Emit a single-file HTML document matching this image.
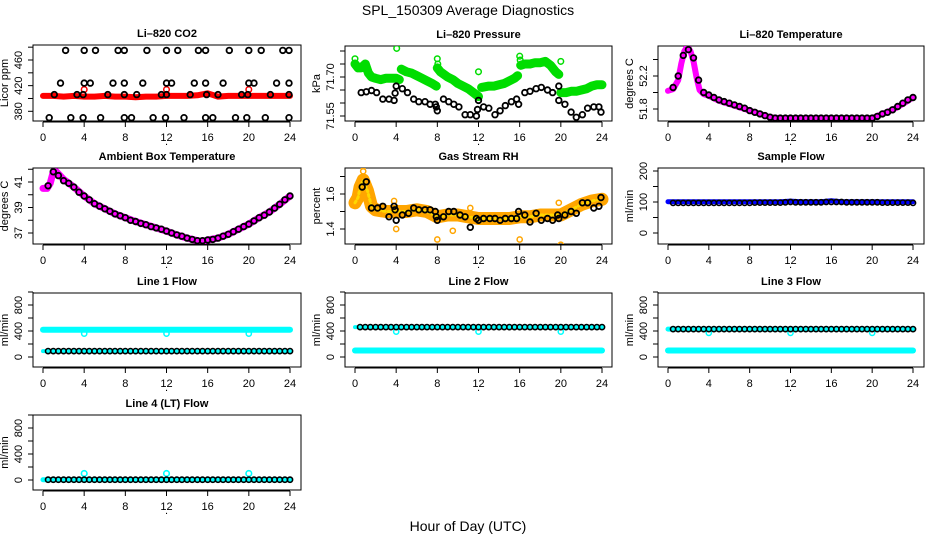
<!DOCTYPE html>
<html><head><meta charset="utf-8"><style>
html,body{margin:0;padding:0;background:#fff}
svg{display:block;font-family:"Liberation Sans",sans-serif}
.t{font-size:11px;fill:#000}
.tt{font-size:11px;font-weight:bold;fill:#000}
</style></head><body>
<svg id="c" width="936" height="540" viewBox="0 0 936 540">
<text x="468" y="15" text-anchor="middle" style="font-size:14px">SPL_150309  Average Diagnostics</text>
<text x="468" y="531" text-anchor="middle" style="font-size:14px">Hour of Day (UTC)</text>
</svg>
<script>
const halfHours=[0.5,1,1.5,2,2.5,3,3.5,4,4.5,5,5.5,6,6.5,7,7.5,8,8.5,9,9.5,10,10.5,11,11.5,12,12.5,13,13.5,14,14.5,15,15.5,16,16.5,17,17.5,18,18.5,19,19.5,20,20.5,21,21.5,22,22.5,23,23.5,24];
const hours=[0,1,2,3,4,5,6,7,8,9,10,11,12,13,14,15,16,17,18,19,20,21,22,23,24];
const xTicks=[0,4,8,12,16,20,24];

// CO2
const co2Red=[404,404,403,404,403,403,404,403,403,402,403,403,404,404,404,405,408,403,404,404,404,404,404,404,404];
const co2RedOutX=[4,12,20];
const co2RedOutY=[414,414,414];
const co2TopX=[2.2,4,5.1,7.3,7.9,10.1,12,13.1,15.1,15.8,18.1,20,21.2,23.3,23.9];
const co2TopY=[475,475,475,475,475,475,475,475,475,475,475,475,475,475,475];
const co2HexX=[1.7,4,4.6,6.8,7.9,9.7,12,12.5,14.7,15.8,17.5,20,20.5,22.7,23.9];
const co2HexY=[424,424,424,424,424,424,424,424,424,424,424,424,424,424,424];
const co2MidX=[1.1,3.3,3.9,6.3,7.9,9.1,11.5,12,14.3,15.9,17,19.3,19.9,22.1,23.9];
const co2MidY=[406,406,406,406,406,406,406,406,406,406,406,406,406,406,406];
const co2LowX=[0.6,2.7,3.9,5.6,7.9,8.6,10.7,11.9,13.7,15.8,16.5,18.7,19.8,21.6,23.9];
const co2LowY=[370,370,370,370,370,370,370,370,370,370,370,370,370,370,370];

// Pressure
const presGreenX=[0,0.3,0.6,1.0,1.3,1.6,2,2.5,3,3.5,4,4.3,null,4.5,5,5.5,6,6.5,7,7.5,7.9,null,8.0,8.3,9,9.5,10,10.5,11,11.5,12,null,12.3,13,13.5,14,14.5,15,15.5,15.8,null,16.1,16.5,17,17.5,18,18.5,19,19.5,19.8,null,20,20.5,21,21.5,22,22.5,23,23.5,24];
const presGreenY=[71.75,71.735,71.735,71.75,71.715,71.70,71.695,71.69,71.695,71.695,71.695,71.69,null,71.73,71.72,71.715,71.705,71.695,71.685,71.675,71.665,null,71.735,71.72,71.70,71.69,71.675,71.665,71.655,71.64,71.625,null,71.66,71.665,71.665,71.67,71.675,71.685,71.695,71.705,null,71.745,71.75,71.75,71.755,71.755,71.76,71.745,71.72,71.71,null,71.64,71.64,71.645,71.645,71.65,71.655,71.665,71.67,71.67];
const presGreenOutX=[0,4.05,8,8.05,12,16,16.05,20];
const presGreenOutY=[71.77,71.81,71.77,71.75,71.72,71.78,71.765,71.76];
const presBlackX=[0.6,1.1,1.6,2.1,2.7,3.3,3.8,3.9,4.0,4.6,5.1,5.7,6.2,6.8,7.3,7.8,7.9,8.0,8.6,9.1,9.6,10.1,10.7,11.2,11.8,11.9,12.0,12.5,13.0,13.6,14.1,14.6,15.2,15.7,15.9,16.5,17.0,17.6,18.1,18.7,19.2,19.8,19.8,20.4,21.0,21.5,22.1,22.6,23.2,23.7,23.9];
const presBlackY=[71.64,71.643,71.648,71.64,71.615,71.615,71.61,71.638,71.665,71.655,71.64,71.615,71.605,71.605,71.595,71.595,71.585,71.57,71.615,71.605,71.595,71.585,71.555,71.555,71.55,71.575,71.61,71.585,71.58,71.555,71.57,71.59,71.605,71.615,71.595,71.64,71.645,71.655,71.66,71.65,71.64,71.665,71.61,71.595,71.565,71.545,71.555,71.58,71.585,71.585,71.565];

// Li-820 temperature
const ltBandX=[0,0.5,1,1.3,1.6,1.9,2.2,2.5,2.8,3.1,3.5,4,5,6,7,8,9,10,11,12,13,14,15,16,17,18,19,20,21,22,23,24];
const ltBandY=[52.02,52.04,52.15,52.35,52.5,52.56,52.5,52.38,52.18,52.03,51.98,51.96,51.9,51.86,51.82,51.78,51.74,51.7,51.69,51.69,51.69,51.69,51.69,51.69,51.69,51.69,51.69,51.69,51.74,51.79,51.86,51.94];
const ltBlack=[52.06,52.2,52.45,52.52,52.42,52.15,52.0,51.97,51.94,51.91,51.89,51.87,51.85,51.83,51.81,51.78,51.76,51.74,51.72,51.7,51.69,51.69,51.69,51.69,51.69,51.69,51.69,51.69,51.69,51.69,51.69,51.69,51.69,51.69,51.69,51.69,51.69,51.69,51.69,51.69,51.71,51.74,51.76,51.79,51.83,51.87,51.91,51.94];

// Ambient box temperature
const abBandX=[0,0.4,0.7,1.0,1.3,2,3,4,5,6,7,8,9,10,11,12,13,14,15,15.5,16,17,18,19,20,21,22,23,24];
const abBandY=[40.5,40.5,40.9,41.8,41.8,41.2,40.6,39.9,39.3,38.9,38.5,38.2,37.9,37.65,37.4,37.15,36.85,36.6,36.4,36.35,36.45,36.6,36.9,37.3,37.7,38.2,38.65,39.25,39.9];
const abBlack=[40.7,41.8,41.5,41.1,40.9,40.6,40.2,39.9,39.6,39.3,39.1,38.9,38.7,38.5,38.35,38.2,38.0,37.9,37.75,37.65,37.5,37.4,37.3,37.15,37.0,36.85,36.75,36.6,36.5,36.4,36.4,36.45,36.5,36.6,36.75,36.9,37.1,37.3,37.5,37.7,37.95,38.2,38.4,38.65,38.95,39.25,39.6,39.9];

// Gas stream RH
const rhBandX=[0,0.3,0.5,0.8,1.2,1.6,2,3,4,5,6,7,8,9,10,11,12,13,14,15,16,17,18,19,20,21,22,23,24];
const rhBandY=[1.55,1.58,1.64,1.68,1.62,1.53,1.51,1.5,1.5,1.5,1.51,1.5,1.47,1.48,1.48,1.47,1.46,1.46,1.46,1.46,1.47,1.47,1.48,1.48,1.48,1.51,1.54,1.56,1.57];
const rhOutX=[0.8,0.8,3.8,4,8,9.5,11.2,16,19.8,20];
const rhOutY=[1.76,1.73,1.56,1.4,1.34,1.39,1.52,1.34,1.55,1.31];
const rhBlackX=[0.7,1.1,1.6,2.2,2.7,3.3,3.8,3.9,4.0,4.6,5.2,5.7,6.2,6.8,7.3,7.8,7.9,8.0,8.6,9.1,9.6,10.2,10.7,11.2,11.8,12.0,12.5,13.1,13.6,14.1,14.6,15.2,15.7,15.9,16.5,17.0,17.6,18.1,18.7,19.2,19.7,19.8,20.4,21.0,21.5,22.1,22.6,23.2,23.7,23.9];
const rhBlackY=[1.64,1.67,1.52,1.52,1.53,1.47,1.53,1.51,1.45,1.48,1.49,1.52,1.51,1.51,1.51,1.50,1.47,1.45,1.47,1.50,1.50,1.48,1.47,1.41,1.46,1.45,1.46,1.46,1.46,1.45,1.46,1.46,1.46,1.50,1.48,1.44,1.49,1.45,1.46,1.45,1.48,1.46,1.48,1.50,1.49,1.55,1.55,1.52,1.53,1.58];

// Sample flow
const sfBlue=[101,101,101,101,101,101,101,101,101,101,101,101,103,101,101,101,104,101,101,101,101,101,101,101,101];
const sfBlack=[97,97,97,97,97,97,97,97,97,97,97,97,97,97,97,97,98,98,98,98,98,98,99,100,99,99,99,99,99,99,100,100,100,100,99,99,99,99,99,99,99,98,98,98,98,98,98,97];

// Line flows
const l1CyanHigh=[420,420,420,420,420,420,420,420,420,420,420,420,420,420,420,420,420,420,420,420,420,420,420,420,420];
const l1CyanLow=[90,90,90,90,90,90,90,90,90,90,90,90,90,90,90,90,90,90,90,90,90,90,90,90,90];
const l1Black=[90,90,90,90,90,90,90,90,90,90,90,90,90,90,90,90,90,90,90,90,90,90,90,90,90,90,90,90,90,90,90,90,90,90,90,90,90,90,90,90,90,90,90,90,90,90,90,90];
const l1DipX=[4,12,20];
const l1DipY=[360,360,360];

const l2CyanHigh=[460,460,460,460,460,460,460,460,460,460,460,460,460,460,460,460,460,460,460,460,460,460,460,460,460];
const l2CyanLow=[100,100,100,100,100,100,100,100,100,100,100,100,100,100,100,100,100,100,100,100,100,100,100,100,100];
const l2Black=[460,460,460,460,460,460,460,460,460,460,460,460,460,460,460,460,460,460,460,460,460,460,460,460,460,460,460,460,460,460,460,460,460,460,460,460,460,460,460,460,460,460,460,460,460,460,460,460];
const l2DipX=[4,12,20];
const l2DipY=[390,390,390];

const l3CyanHigh=[430,430,430,430,430,430,430,430,430,430,430,430,430,430,430,430,430,430,430,430,430,430,430,430,430];
const l3CyanLow=[100,100,100,100,100,100,100,100,100,100,100,100,100,100,100,100,100,100,100,100,100,100,100,100,100];
const l3Black=[430,430,430,430,430,430,430,430,430,430,430,430,430,430,430,430,430,430,430,430,430,430,430,430,430,430,430,430,430,430,430,430,430,430,430,430,430,430,430,430,430,430,430,430,430,430,430,430];
const l3DipX=[4,12,20];
const l3DipY=[370,370,370];

const l4Cyan=[5,5,5,5,5,5,5,5,5,5,5,5,5,5,5,5,5,5,5,5,5,5,5,5,5];
const l4Black=[5,5,5,5,5,5,5,5,5,5,5,5,5,5,5,5,5,5,5,5,5,5,5,5,5,5,5,5,5,5,5,5,5,5,5,5,5,5,5,5,5,5,5,5,5,5,5,5];
const l4SpikeX=[4,12,20];
const l4SpikeY=[100,100,100];

const NS='http://www.w3.org/2000/svg';
const svg=document.getElementById('c');
function el(tag,attrs,parent){const e=document.createElementNS(NS,tag);for(const k in attrs)e.setAttribute(k,attrs[k]);(parent||svg).appendChild(e);return e;}

function panel(name,title,ylab,bx,by,bw,bh,x0,x24,v1,p1,v2,p2,yticks,ylabels){
  const g=el('g',{});
  
  
  const sx=v=>x0+(x24-x0)*v/24;
  const sy=v=>p1+(parseFloat(v)-v1)*(p2-p1)/(v2-v1);
  const box=el('rect',{x:bx,y:by,width:bw,height:bh,fill:'none',stroke:'#000','stroke-width':1},g);
  
  
  const t=el('text',{x:bx+bw/2,y:by-8,'text-anchor':'middle',class:'tt'},g);
  
  
  t.textContent=title;
  const ax=el('g',{},g);
  
  
  const yb=by+bh;
  el('line',{x1:sx(0),x2:sx(24),y1:yb+1,y2:yb+1,stroke:'#000'},ax);
  xTicks.forEach(v=>{
    el('line',{x1:sx(v),x2:sx(v),y1:yb+1,y2:yb+6,stroke:'#000'},ax);
    const l=el('text',{x:sx(v),y:yb+20,'text-anchor':'middle',class:'t'},ax);
    
    
    l.textContent=v;
  });
  const dot=el('text',{x:sx(12),y:yb+24,'text-anchor':'middle',class:'t'},ax);
  
  
  dot.textContent='.';
  const ay=el('g',{},g);
  
  
  el('line',{x1:bx,x2:bx,y1:sy(yticks[0]),y2:sy(yticks[yticks.length-1]),stroke:'#000'},ay);
  yticks.forEach(v=>{el('line',{x1:bx-5,x2:bx,y1:sy(v),y2:sy(v),stroke:'#000'},ay);});
  ylabels.forEach(v=>{
    const y=sy(v), x=bx-11;
    const l=el('text',{x:x,y:y,'text-anchor':'middle',class:'t',transform:`rotate(-90 ${x} ${y})`},ay);
    
    
    l.textContent=v;
  });
  const yl=el('text',{x:bx-25,y:by+bh/2,'text-anchor':'middle',class:'t',transform:`rotate(-90 ${bx-25} ${by+bh/2})`},ay);
  
  
  yl.textContent=ylab;
  const clipId='clip-'+name;
  const cp=el('clipPath',{id:clipId},g);
  el('rect',{x:bx,y:by,width:bw,height:bh},cp);
  const plot=el('g',{'clip-path':`url(#${clipId})`},g);
  return {sx,sy,g:plot,name};
}
function band(P,xs,ys,color,w,nm){
  let d='',pen=false;
  xs.forEach((x,i)=>{
    if(x===null||ys[i]===null){pen=false;return;}
    d+=(pen?'L':'M')+P.sx(x).toFixed(1)+' '+P.sy(ys[i]).toFixed(1)+' ';pen=true;
  });
  const p=el('path',{d:d,fill:'none',stroke:color,'stroke-width':w,'stroke-linecap':'round','stroke-linejoin':'round'},P.g);
  
  
  return p;
}
function pts(P,xs,ys,color,r,sw,nm){
  const gg=el('g',{},P.g);
  
  
  xs.forEach((x,i)=>{
    const c=el('circle',{cx:P.sx(x).toFixed(1),cy:P.sy(ys[i]).toFixed(1),r:r,fill:'none',stroke:color,'stroke-width':sw},gg);
    
    
  });
}
const K='#000',CY='#00ffff';

let P=panel('co2','Li\u2013820 CO2','Licor ppm',33,45,268,76,43,290,380,111.3,460,60,[380,400,420,440,460,480],['380','420','460']);
band(P,hours,co2Red,'#ff0000',6,'red-band');
pts(P,co2RedOutX,co2RedOutY,'#ff0000',2.8,1.5,'red-outliers');
pts(P,co2TopX,co2TopY,K,2.8,1.8,'black-top');
pts(P,co2HexX,co2HexY,K,2.8,1.8,'black-hex');
pts(P,co2MidX,co2MidY,K,2.8,1.8,'black-mid');
pts(P,co2LowX,co2LowY,K,2.8,1.8,'black-low');

P=panel('pressure','Li\u2013820 Pressure','kPa',345,46,267,75,355,602,71.55,116,71.70,77,[71.55,71.60,71.65,71.70,71.75,71.80],['71.55','71.70']);
band(P,presGreenX,presGreenY,'#00dd00',9,'green-band');
pts(P,presGreenOutX,presGreenOutY,'#00dd00',2.8,1.5,'green-outliers');
pts(P,presBlackX,presBlackY,K,2.8,1.8,'black-points');

P=panel('li820-temp','Li\u2013820 Temperature','degrees C',658,46,266,75,668,913,51.8,109,52.2,76,[51.8,52.0,52.2,52.4],['51.8','52.2']);
band(P,ltBandX,ltBandY,'#ff00ff',6,'magenta-band');
pts(P,halfHours,ltBlack,K,2.8,1.8,'black-points');

P=panel('ambient','Ambient Box Temperature','degrees C',33,168,268,76,43,290,37,233,41,182,[37,38,39,40,41,42],['37','39','41']);
band(P,abBandX,abBandY,'#ff00ff',7,'magenta-band');
pts(P,halfHours,abBlack,K,2.8,1.8,'black-points');

P=panel('rh','Gas Stream RH','percent',345,168,267,76,355,602,1.4,229,1.6,194,[1.4,1.5,1.6,1.7],['1.4','1.6']);
band(P,rhBandX,rhBandY,'#ffa500',13,'orange-band');
band(P,rhBandX,rhBandY,'#ffd700',3,'yellow-core').setAttribute('stroke-dasharray','2 3');
pts(P,rhOutX,rhOutY,'#ffa500',2.6,1.5,'orange-outliers');
pts(P,rhBlackX,rhBlackY,K,2.8,1.8,'black-points');

P=panel('sample-flow','Sample Flow','ml/min',658,168,266,76,668,913,0,233,200,171,[0,50,100,150,200],['0','100','200']);
band(P,hours,sfBlue,'#0000ff',5,'blue-band');
pts(P,halfHours,sfBlack,K,2.6,1.6,'black-points');

const fT=[0,200,400,600,800,1000],fL=['0','400','800'];
P=panel('line1-flow','Line 1 Flow','ml/min',33,293,268,74,43,290,0,357,800,305,fT,fL);
band(P,hours,l1CyanHigh,CY,6,'cyan-high');
band(P,hours,l1CyanLow,CY,4,'cyan-low');
pts(P,l1DipX,l1DipY,CY,2.6,1.5,'cyan-dips');
pts(P,halfHours,l1Black,K,2.6,1.6,'black-points');

P=panel('line2-flow','Line 2 Flow','ml/min',345,293,267,74,355,602,0,357,800,305,fT,fL);
band(P,hours,l2CyanLow,CY,6,'cyan-low');
band(P,hours,l2CyanHigh,CY,4,'cyan-high');
pts(P,l2DipX,l2DipY,CY,2.6,1.5,'cyan-dips');
pts(P,halfHours,l2Black,K,2.6,1.6,'black-points');

P=panel('line3-flow','Line 3 Flow','ml/min',658,293,266,74,668,913,0,357,800,305,fT,fL);
band(P,hours,l3CyanLow,CY,6,'cyan-low');
band(P,hours,l3CyanHigh,CY,5,'cyan-high');
pts(P,l3DipX,l3DipY,CY,2.6,1.5,'cyan-dips');
pts(P,halfHours,l3Black,K,2.6,1.6,'black-points');

P=panel('line4-flow','Line 4 (LT) Flow','ml/min',33,415,268,75,43,290,0,480,800,428,fT,fL);
band(P,hours,l4Cyan,CY,5,'cyan-band');
pts(P,l4SpikeX,l4SpikeY,CY,2.8,1.6,'cyan-spikes');
pts(P,halfHours,l4Black,K,2.6,1.6,'black-points');
</script>
</body></html>
